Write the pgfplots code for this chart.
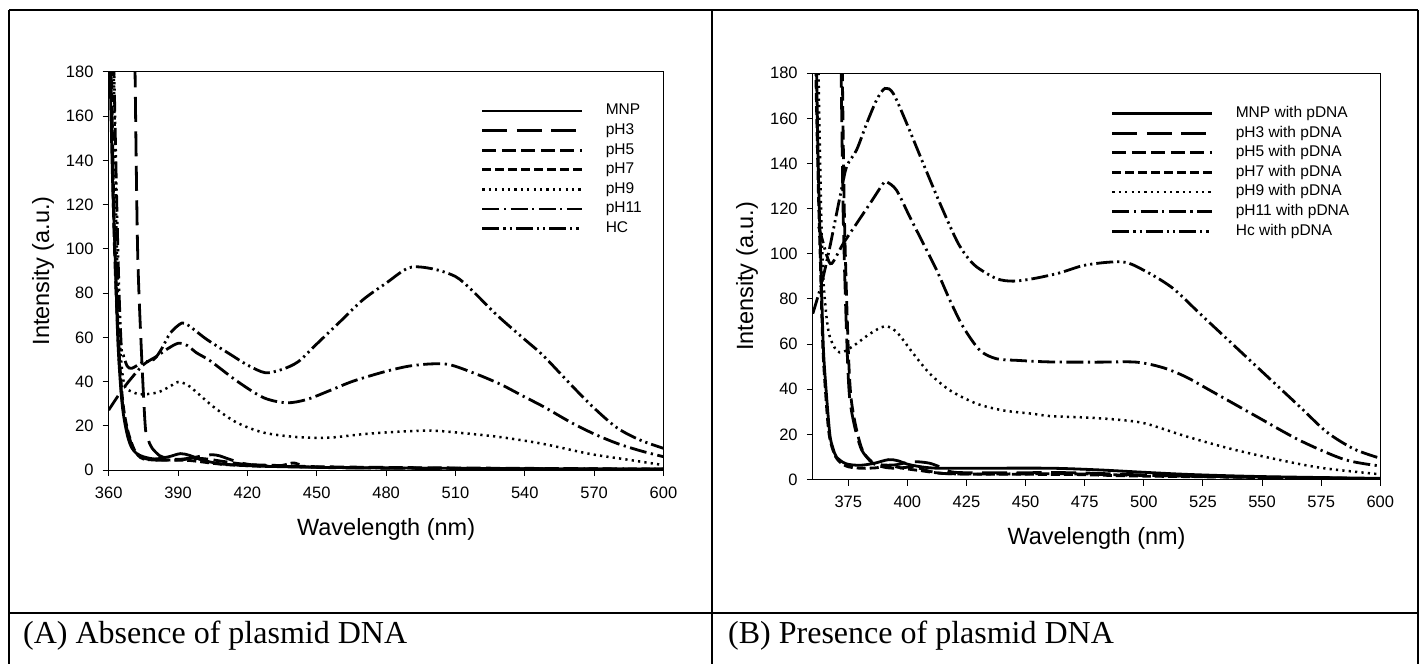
\documentclass[border=0pt]{standalone}
\usepackage{fontspec}
\setmainfont{Liberation Sans}
\newfontfamily\capfont{Liberation Serif}
\usepackage{pgfplots}
\pgfplotsset{compat=1.18}

\pgfplotsset{
  spec/.style={
    scale only axis,
    xmin=360, xmax=600, ymin=0, ymax=180,
    ytick={0,20,...,180},
    tick align=outside,
    xtick pos=left, ytick pos=left,
    major tick length=6pt,
    tick style={black, line width=1pt},
    axis line style={line width=1pt},
    /pgf/number format/assume math mode=true,
    tick label style={font=\fontsize{16.5}{18}\selectfont},
    yticklabel style={anchor=east, inner sep=0pt, xshift=-9pt},
    xticklabel style={anchor=center, inner sep=0pt, yshift=-16.6pt},
    every axis x label/.style={at={(axis description cs:0.5,0)}, anchor=center, yshift=-59pt, font=\fontsize{23.5}{26}\selectfont},
    every axis y label/.style={at={(axis description cs:0,0.5)}, anchor=center, rotate=90, yshift=65.7pt, font=\fontsize{23.5}{26}\selectfont},
    xlabel={Wavelength (nm)},
    ylabel={Intensity (a.u.)},
    legend cell align=left,
    legend image code/.code={\draw[#1] (0pt,0pt) -- (100pt,0pt);},
    legend style={draw=none, fill=none, inner sep=0pt, outer sep=0pt,
      anchor=north west,
      font=\fontsize{15.5}{17}\selectfont,
      nodes={inner sep=0pt, text height=11.5pt, text depth=3.5pt},
      row sep=4.6pt, column sep=22pt},
  },
  cMNP/.style={black, line width=2.8pt, smooth, tension=0.5},
  cpH3/.style={black, line width=2.8pt, smooth, tension=0.5, dash pattern=on 25pt off 9.5pt},
  cpH5/.style={black, line width=2.8pt, smooth, tension=0.5, dash pattern=on 14pt off 5.5pt},
  cpH7/.style={black, line width=2.8pt, smooth, tension=0.5, dash pattern=on 9pt off 4pt},
  cpH9/.style={black, line width=2.5pt, smooth, tension=0.5, dash pattern=on 2.2pt off 4.2pt},
  cpH11/.style={black, line width=2.8pt, smooth, tension=0.5, dash pattern=on 17pt off 4.5pt on 2.2pt off 4.5pt},
  cHC/.style={black, line width=2.8pt, smooth, tension=0.5, dash pattern=on 17pt off 4pt on 2.2pt off 4pt on 2.2pt off 4pt},
}

\begin{document}
\begin{tikzpicture}[x=1pt,y=1pt]
\useasboundingbox (0,0) rectangle (1421,664);

% table frame
\draw[line width=1.3pt] (9,654) -- (1418,654);
\draw[line width=1.3pt] (9,51) -- (1418,51);
\draw[line width=1.3pt] (9,654) -- (9,0);
\draw[line width=1.3pt] (712,654) -- (712,0);
\draw[line width=1.3pt] (1418,654) -- (1418,0);

\node[anchor=base west, inner sep=0pt] at (23,20.7) {\capfont\fontsize{32}{34}\selectfont (A) Absence of plasmid DNA};
\node[anchor=base west, inner sep=0pt] at (728,20.7) {\capfont\fontsize{32}{34}\selectfont (B) Presence of plasmid DNA};

% ---------------- Panel A ----------------
\begin{axis}[spec,
  at={(108.7pt,194pt)}, anchor=south west,
  width=554.8pt, height=398pt,
  xtick={360,390,...,600},
  legend style={at={(0.671,0.921)}},
]
\addplot[cMNP] coordinates {(360.4,200)(360.6,180)(361.7,130)(362.7,100)(363.9,60)(365,40)(366,28)(367.2,20)(368.5,14)(370,10)(372,7.5)(375,6)(380,5)(386,6)(391,7.4)(395,6.6)(400,4.6)(405,3.4)(410,2.6)(424,1.8)(450,1.2)(500,0.8)(550,0.5)(600,0.4)};
\addlegendentry{MNP}
\addplot[cpH3] coordinates {(371.2,200)(371.4,180)(372.5,100)(374.1,55)(375.8,20)(377,14)(378.7,10)(382,6.5)(385,5.5)(390,4.8)(396.6,5.6)(401,6.5)(405,6.9)(408,6.4)(411,5.3)(418,3)(426,2)(440,1.5)(460,1)(500,0.7)(600,0.3)};
\addlegendentry{pH3}
\addplot[cpH5] coordinates {(360.8,200)(361,180)(362,120)(363,85)(364.5,50)(366,30)(368,18)(371,9)(375,5.5)(380,4.5)(390,4.6)(400,5.2)(410,3.8)(420,2.5)(435,2)(450,1.5)(500,1)(600,0.4)};
\addlegendentry{pH5}
\addplot[cpH7] coordinates {(361,200)(361.2,180)(362.2,120)(363.2,85)(364.7,50)(366.2,30)(368.2,18)(371.2,9)(375,5)(385,4.5)(395,4.3)(410,2.5)(430,1.6)(436,2.3)(440,3.2)(444,2)(450,1.3)(500,0.8)(600,0.4)};
\addlegendentry{pH7}
\addplot[cpH9] coordinates {(362,200)(362.2,180)(363.3,110)(364.3,70)(365,55)(366,43)(367.2,37.2)(369.4,35.7)(373.7,34.2)(380.9,35)(386,37.5)(390,39.8)(394,38.5)(398.2,35)(402,31.5)(406.8,27.4)(415.5,21.4)(427,16.9)(441.4,14.9)(455,14.6)(470,16.2)(485,17.3)(500,17.8)(515,16.5)(530,14.8)(548,11.8)(568,7.3)(585,4.6)(600,2.2)};
\addlegendentry{pH9}
\addplot[cpH11] coordinates {(360,27.1)(365,35)(369.4,41)(375.1,47.7)(380.9,51.5)(385,54.5)(390,57.3)(394,56.3)(398,53)(404,49.3)(415.5,40.2)(427,32.7)(437,30.4)(445.7,31.9)(455.8,36)(465.8,40.2)(479.5,44.5)(490,47)(500,48)(508,47.5)(520,43)(530,38.5)(540,33)(548,28.7)(560,21.5)(570,16.3)(580,12)(590,8.7)(600,6)};
\addlegendentry{pH11}
\addplot[cHC] coordinates {(362.1,200)(362.3,180)(363.5,120)(364.5,80)(365.5,55)(366.3,52)(368,47)(370,46)(374.4,48.5)(379.5,50)(383,55)(386.7,62)(391.7,66.5)(395,65)(402.5,59)(412.6,52.3)(420,47.5)(427.7,44)(435,45.5)(442,49)(450,57)(460,67)(470,77)(480,84.5)(490,91.5)(500,91)(510,87.5)(517,81.4)(528,70)(540,59)(548,51.7)(560,38.5)(570,28)(580,19)(590,13.5)(600,9.8)};
\addlegendentry{HC}
\end{axis}

% ---------------- Panel B ----------------
\begin{axis}[spec,
  at={(812.8pt,184.5pt)}, anchor=south west,
  width=567.5pt, height=406.2pt,
  xtick={375,400,...,600},
  legend style={at={(0.5255,0.9195)}},
]
\addplot[cMNP] coordinates {(361.4,200)(361.6,180)(362.5,130)(363.3,100)(364.4,60)(365.6,40)(367.2,20)(368.5,14)(370,10)(374,7)(380,6.3)(386,7.2)(392,8.8)(396,8.3)(400,6.8)(406,5.6)(413,5)(430,5)(460,5)(480,4.3)(500,3.2)(520,2.2)(550,1.3)(600,0.5)};
\addlegendentry{MNP with pDNA}
\addplot[cpH3] coordinates {(371.8,200)(372,180)(372.8,120)(373.8,80)(374.8,50)(375.7,35)(377.8,23)(380.7,13)(384.9,8)(389,6.5)(395,6.5)(402,7.9)(409,7.3)(414,5.5)(420,3.2)(440,3)(470,3)(500,2)(530,1.2)(600,0.3)};
\addlegendentry{pH3 with pDNA}
\addplot[cpH5] coordinates {(372.3,200)(372.5,180)(373.3,120)(374.3,80)(375.3,50)(376.3,35)(378.3,23)(381,13)(385,7.5)(390,5.5)(395,5)(403,5.5)(410,3.5)(420,2.5)(470,2.5)(500,1.8)(600,0.3)};
\addlegendentry{pH5 with pDNA}
\addplot[cpH7] coordinates {(361.1,200)(361.3,180)(362.3,130)(363.1,100)(364.2,60)(365.3,40)(366.9,20)(369.7,10)(374,6)(380,5)(387,5.2)(392,6.2)(398,5)(405,4)(420,2.5)(470,2.2)(500,1.5)(600,0.3)};
\addlegendentry{pH7 with pDNA}
\addplot[cpH9] coordinates {(362.3,200)(362.5,175)(363.5,120)(364.4,90)(365.8,72)(367.2,63.2)(370,57.2)(372.9,56.5)(378.5,60.2)(384.2,64.6)(390.5,67.9)(395.4,65.4)(402.5,55.8)(409.5,46.9)(418,39.5)(429.3,33.6)(440.6,30.6)(453.2,29.1)(460.3,28.1)(475,27.5)(489,26.5)(500.7,24.8)(517.9,19.1)(537.1,13.5)(556.3,8.9)(575.4,5.1)(600,2.3)};
\addlegendentry{pH9 with pDNA}
\addplot[cpH11] coordinates {(362.5,112)(363.7,107.5)(366,99)(368,95.7)(372.9,104.6)(378.5,113.4)(384.2,122.3)(389.8,131.2)(391.2,131.9)(395.4,128.2)(401,116.4)(406.7,104.6)(412.4,92.7)(418,79.4)(423.6,67.6)(430.7,57.2)(437.7,53.5)(446.2,52.8)(460.3,52.1)(480,52)(496.8,52)(508.3,49.5)(517.9,45.4)(527.5,39.8)(546.7,28.5)(566,17.3)(585,8.8)(600,6)};
\addlegendentry{pH11 with pDNA}
\addplot[cHC] coordinates {(360,73.5)(363.7,86.8)(367.2,103)(371.5,125.3)(374.3,138.6)(378.5,146)(382.8,157.8)(387,168.2)(390.5,173.3)(394,171.1)(399.7,157.8)(406.7,140)(413.8,122.3)(420.8,106)(425,99)(429.3,94.2)(437.7,89)(444.8,87.9)(453.2,89)(464.2,91.5)(475.7,95.1)(491.1,96.4)(500.7,92.3)(512.2,84.8)(523.7,73.5)(537.1,60.4)(550.5,47.3)(565.9,32.3)(577.4,21)(588.9,13.5)(600,9.4)};
\addlegendentry{Hc with pDNA}
\end{axis}
\end{tikzpicture}
\end{document}
